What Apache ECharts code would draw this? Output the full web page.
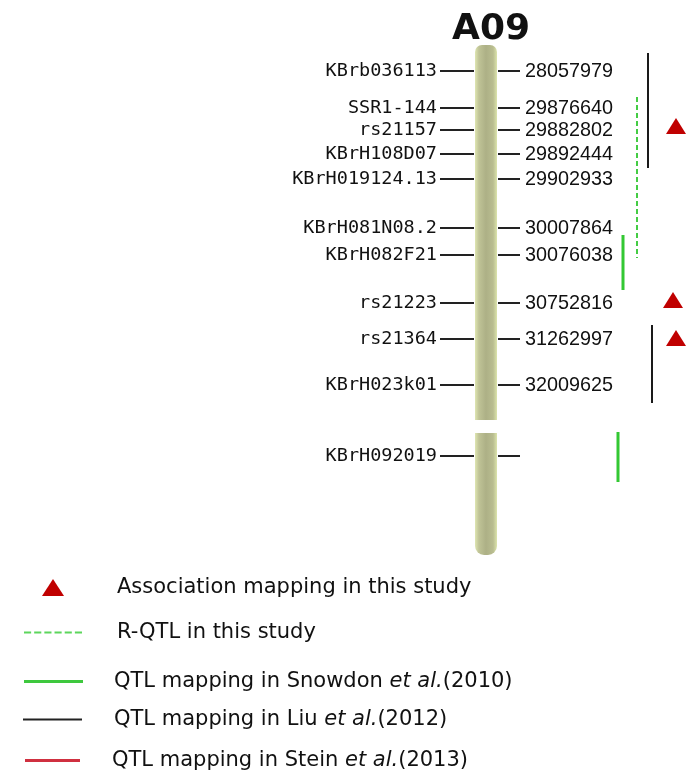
<!DOCTYPE html>
<html>
<head>
<meta charset="utf-8">
<script src="https://cdn.jsdelivr.net/npm/echarts@6/dist/echarts.min.js"></script>
<style>html,body{margin:0;padding:0;background:#ffffff;}#chart{width:694px;height:777px;}</style>
</head>
<body>
<div id="chart"></div>
<script>
// ---- data ----
const markerNames = ['KBrb036113','SSR1-144','rs21157','KBrH108D07','KBrH019124.13','KBrH081N08.2','KBrH082F21','rs21223','rs21364','KBrH023k01','KBrH092019'];
const physicalPositions = ['28057979','29876640','29882802','29892444','29902933','30007864','30076038','30752816','31262997','32009625',''];
const markerRowPos = [71,108,130,154,179,228,255,303,339,385,456];
const chromosomeSegStart = [45,433];
const chromosomeSegEnd = [420,555];
const associationHits = [[676,126],[673,300],[676,338]];
const rqtlIntervals = [[637,97,258]];
const snowdonIntervals = [[623,235,290],[618,432,482]];
const liuIntervals = [[648,53,168],[652,325,403]];
const steinIntervals = [];
const legendNames = ['Association mapping in this study','R-QTL in this study','QTL mapping in Snowdon et al.(2010)','QTL mapping in Liu et al.(2012)','QTL mapping in Stein et al.(2013)'];
const chromosomeName = 'A09';

// ---- layout ----
const CHROM_X = 486;
function toSegments(list){
  const out = [];
  list.forEach((s,i)=>{ if(i>0) out.push('-'); out.push([s[0],s[1]]); out.push([s[0],s[2]]); });
  return out;
}
const chart = echarts.init(document.getElementById('chart'), null, {renderer:'canvas'});
const chromFill = new echarts.graphic.LinearGradient(0,0,1,0,[
  {offset:0,color:'#dfe6b2'},{offset:0.18,color:'#bfc396'},{offset:0.5,color:'#adb086'},{offset:0.82,color:'#b9bd90'},{offset:1,color:'#dce4ac'}]);
const labelFontL = {fontFamily:'DejaVu Sans Mono', fontSize:18.5, fill:'#111'};
const labelFontR = {fontFamily:'Liberation Sans', fontSize:19.8, fill:'#111'};
const legendFmt = n => n.replace('et al.','{i|et al.}');
function mkLegend(name, left, centerY, iw, ih, icon, color, padL){
  return {data:[{name:name, icon:icon, itemStyle:{color:color, borderWidth:0, opacity:1}}], left:left, top:centerY-10, orient:'horizontal', padding:0,
    itemWidth:iw, itemHeight:ih, selectedMode:false, formatter:legendFmt,
    textStyle:{fontFamily:'DejaVu Sans', fontSize:21, lineHeight:20, color:'#111', padding:[0,0,0,padL],
      rich:{i:{fontFamily:'DejaVu Sans', fontSize:21, lineHeight:20, fontStyle:'italic', color:'#111'}}}};
}
const dashPath = 'path://M0,0h7v2h-7z M10,0h7v2h-7z M20,0h7v2h-7z M30,0h7v2h-7z M40,0h7v2h-7z M50,0h7v2h-7z';
const option = {
  backgroundColor:'#ffffff',
  animation:false,
  title:{text:chromosomeName, left:491, top:12, padding:0, textAlign:'center',
    textStyle:{fontFamily:'DejaVu Sans', fontWeight:'bold', fontSize:36, color:'#111'}},
  grid:{left:0,right:0,top:0,bottom:0},
  xAxis:{type:'value', min:0, max:694, show:false},
  yAxis:{type:'value', min:0, max:777, inverse:true, show:false},
  legend:[
    mkLegend(legendNames[0], 42, 587, 22, 17, 'triangle', '#c00000', 48),
    mkLegend(legendNames[1], 24, 632, 58, 3, dashPath, '#5cd65c', 30),
    mkLegend(legendNames[2], 24, 681, 59, 3, 'rect', '#3ec83e', 26),
    mkLegend(legendNames[3], 23, 719, 59, 2, 'rect', '#222222', 27),
    mkLegend(legendNames[4], 25, 760, 55, 3, 'rect', '#d03040', 27)
  ],
  series:[
    {type:'custom', name:'chromosome', silent:true,
      data: chromosomeSegStart.map((s,i)=>[CHROM_X, s, chromosomeSegEnd[i]]),
      renderItem:(params, api)=>{
        const t = api.coord([api.value(0), api.value(1)]);
        const b = api.coord([api.value(0), api.value(2)]);
        const w = 22;
        const r = params.dataIndex === 0 ? [7,7,0,0] : [0,0,9,9];
        return {type:'rect', shape:{x:t[0]-w/2, y:t[1], width:w, height:b[1]-t[1], r:r}, style:{fill:chromFill}};
      }},
    {type:'custom', name:'markers', silent:true,
      data: markerRowPos.map((y,i)=>[CHROM_X, y, i]),
      renderItem:(params, api)=>{
        const p = api.coord([api.value(0), api.value(1)]);
        const i = api.value(2);
        const cx = p[0], y = p[1];
        const ls = {stroke:'#222', lineWidth:2};
        return {type:'group', children:[
          {type:'line', shape:{x1:cx-46, y1:y, x2:cx-12, y2:y}, style:ls},
          {type:'line', shape:{x1:cx+12, y1:y, x2:cx+34, y2:y}, style:ls},
          {type:'text', x:cx-49, y:y, style:Object.assign({text:markerNames[i], align:'right', verticalAlign:'middle'}, labelFontL)},
          {type:'text', x:cx+39, y:y+1, style:Object.assign({text:physicalPositions[i], align:'left', verticalAlign:'middle'}, labelFontR)}
        ]};
      }},
    {type:'scatter', name:legendNames[0], data:associationHits, symbol:'triangle', symbolSize:[20,16],
      itemStyle:{color:'#c00000', opacity:1}},
    {type:'line', name:legendNames[1], data:toSegments(rqtlIntervals), symbol:'none', connectNulls:false,
      lineStyle:{color:'#44cc44', width:2, type:[5,3]}, itemStyle:{color:'#44cc44'}},
    {type:'line', name:legendNames[2], data:toSegments(snowdonIntervals), symbol:'none', connectNulls:false,
      lineStyle:{color:'#33c833', width:3}, itemStyle:{color:'#33c833'}},
    {type:'line', name:legendNames[3], data:toSegments(liuIntervals), symbol:'none', connectNulls:false,
      lineStyle:{color:'#1a1a1a', width:2}, itemStyle:{color:'#1a1a1a'}},
    {type:'line', name:legendNames[4], data:toSegments(steinIntervals), symbol:'none', connectNulls:false,
      lineStyle:{color:'#d03040', width:3}, itemStyle:{color:'#d03040'}}
  ]
};
chart.setOption(option);
</script>
</body>
</html>
